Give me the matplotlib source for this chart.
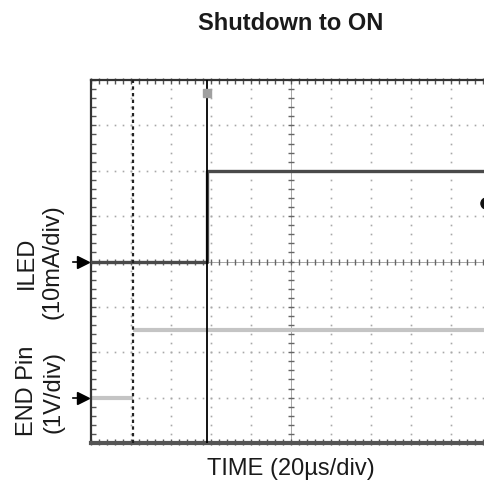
import numpy as np
import matplotlib
matplotlib.use("Agg")
import matplotlib.pyplot as plt

# scope settings (per division)
time_per_div_us = 20.0
iled_per_div_ma = 10.0
end_per_div_v = 1.0
n_xdiv = 10
n_ydiv = 8

# ground markers (in divisions from bottom)
iled_ground_div = 4.0
end_ground_div = 1.0

# traces: time (us from left edge) vs value
iled_t_us = [0.0, 58.0, 58.0, 200.0]
iled_ma = [0.0, 0.0, 20.0, 20.0]
end_t_us = [0.0, 20.0, 22.0, 200.0]
end_v = [0.0, 0.0, 1.5, 1.5]

# cursors
dash_cursor_us = 21.0
solid_cursor_us = 58.0
trig_level_div = 5.3

W, H = 485, 487
fig = plt.figure(figsize=(W / 100, H / 100), dpi=100)
plt.rcParams["font.family"] = ["Liberation Sans", "DejaVu Sans"]

left, right, top, bottom = 91, 491, 80, 443
ax = fig.add_axes([left / W, (H - bottom) / H, (right - left) / W, (bottom - top) / H])
ax.set_xlim(0, n_xdiv)
ax.set_ylim(0, n_ydiv)
ax.set_xticks([])
ax.set_yticks([])
for side in ["top", "left", "right"]:
    ax.spines[side].set_color("#333333")
    ax.spines[side].set_linewidth(1.6)
ax.spines["bottom"].set_color("#555555")
ax.spines["bottom"].set_linewidth(3.0)

# graticule dots
grid_col = "#a8a8a8"
fine_y = np.arange(0, n_ydiv + 0.01, 0.2)
fine_x = np.arange(0, n_xdiv + 0.01, 0.2)
for gx in range(1, n_xdiv):
    if gx == n_xdiv // 2:
        continue
    ax.plot(np.full_like(fine_y, gx), fine_y, ls="none", marker="s", ms=1.2,
            mec="none", mfc=grid_col, zorder=1)
for gy in range(1, n_ydiv):
    if gy == n_ydiv // 2:
        continue
    ax.plot(fine_x, np.full_like(fine_x, gy), ls="none", marker="s", ms=1.2,
            mec="none", mfc=grid_col, zorder=1)

# center cross with minor ticks
cx, cy = n_xdiv / 2, n_ydiv / 2
ax.axhline(cy, color="#999999", lw=0.6, zorder=1)
ax.axvline(cx, color="#999999", lw=0.6, zorder=1)
ax.plot(fine_x, np.full_like(fine_x, cy), ls="none", marker="|", ms=5,
        mew=1.0, color="#666666", zorder=1)
ax.plot(np.full_like(fine_y, cx), fine_y, ls="none", marker="_", ms=5,
        mew=1.0, color="#666666", zorder=1)

# border ticks
ax.plot(fine_x, np.full_like(fine_x, 0.03), ls="none", marker="|", ms=5,
        mew=1.0, color="#555555", zorder=1, clip_on=False)
ax.plot(fine_x, np.full_like(fine_x, n_ydiv - 0.03), ls="none", marker="|", ms=5,
        mew=1.0, color="#555555", zorder=1, clip_on=False)
ax.plot(np.full_like(fine_y, 0.04), fine_y, ls="none", marker="_", ms=5,
        mew=1.0, color="#555555", zorder=1, clip_on=False)

# traces
iled_x = np.array(iled_t_us) / time_per_div_us
iled_y = np.array(iled_ma) / iled_per_div_ma + iled_ground_div
end_x = np.array(end_t_us) / time_per_div_us
end_y = np.array(end_v) / end_per_div_v + end_ground_div
ax.plot(end_x[:2], end_y[:2], color="#c4c4c4", lw=3.0, zorder=2)
ax.plot(end_x[2:], end_y[2:], color="#c4c4c4", lw=3.0, zorder=2)
ax.plot(iled_x, iled_y, color="#4a4a4a", lw=2.4, zorder=3)

# cursors
ax.axvline(dash_cursor_us / time_per_div_us, color="#222222", lw=1.6,
           ls=(0, (1.5, 1.5)), zorder=4)
ax.axvline(solid_cursor_us / time_per_div_us, color="#000000", lw=1.3, zorder=4)

# trigger position marker and trigger level
ax.plot([solid_cursor_us / time_per_div_us], [7.72], marker="s", ms=6,
        color="#a0a0a0", mec="#a0a0a0", zorder=5)
ax.plot([9.88], [trig_level_div], marker="o", ms=8, color="#111111",
        zorder=5, clip_on=False)

# ground arrows on the left
for gd in [iled_ground_div, end_ground_div]:
    ax.plot([-0.2], [gd], marker=">", ms=8, color="#000000", clip_on=False, zorder=5)
    ax.plot([-0.45, -0.15], [gd, gd], color="#000000", lw=1.2, clip_on=False)

fs = 17
fig.text(291 / W, 1 - 24 / H, "Shutdown to ON", ha="center", va="center",
         fontsize=fs, fontweight="bold", color="#1a1a1a")
fig.text(291 / W, 1 - 469 / H, "TIME (20\u00b5s/div)", ha="center", va="center",
         fontsize=fs, color="#1a1a1a")
fig.text(27 / W, 1 - 263 / H, "ILED", rotation=90, ha="center", va="center",
         fontsize=fs, color="#1a1a1a")
fig.text(53 / W, 1 - 262 / H, "(10mA/div)", rotation=90, ha="center", va="center",
         fontsize=fs, color="#1a1a1a")
fig.text(27 / W, 1 - 391 / H, "END Pin", rotation=90, ha="center", va="center",
         fontsize=fs, color="#1a1a1a")
fig.text(53 / W, 1 - 392 / H, "(1V/div)", rotation=90, ha="center", va="center",
         fontsize=fs, color="#1a1a1a")

fig.savefig("out.png", dpi=100)
